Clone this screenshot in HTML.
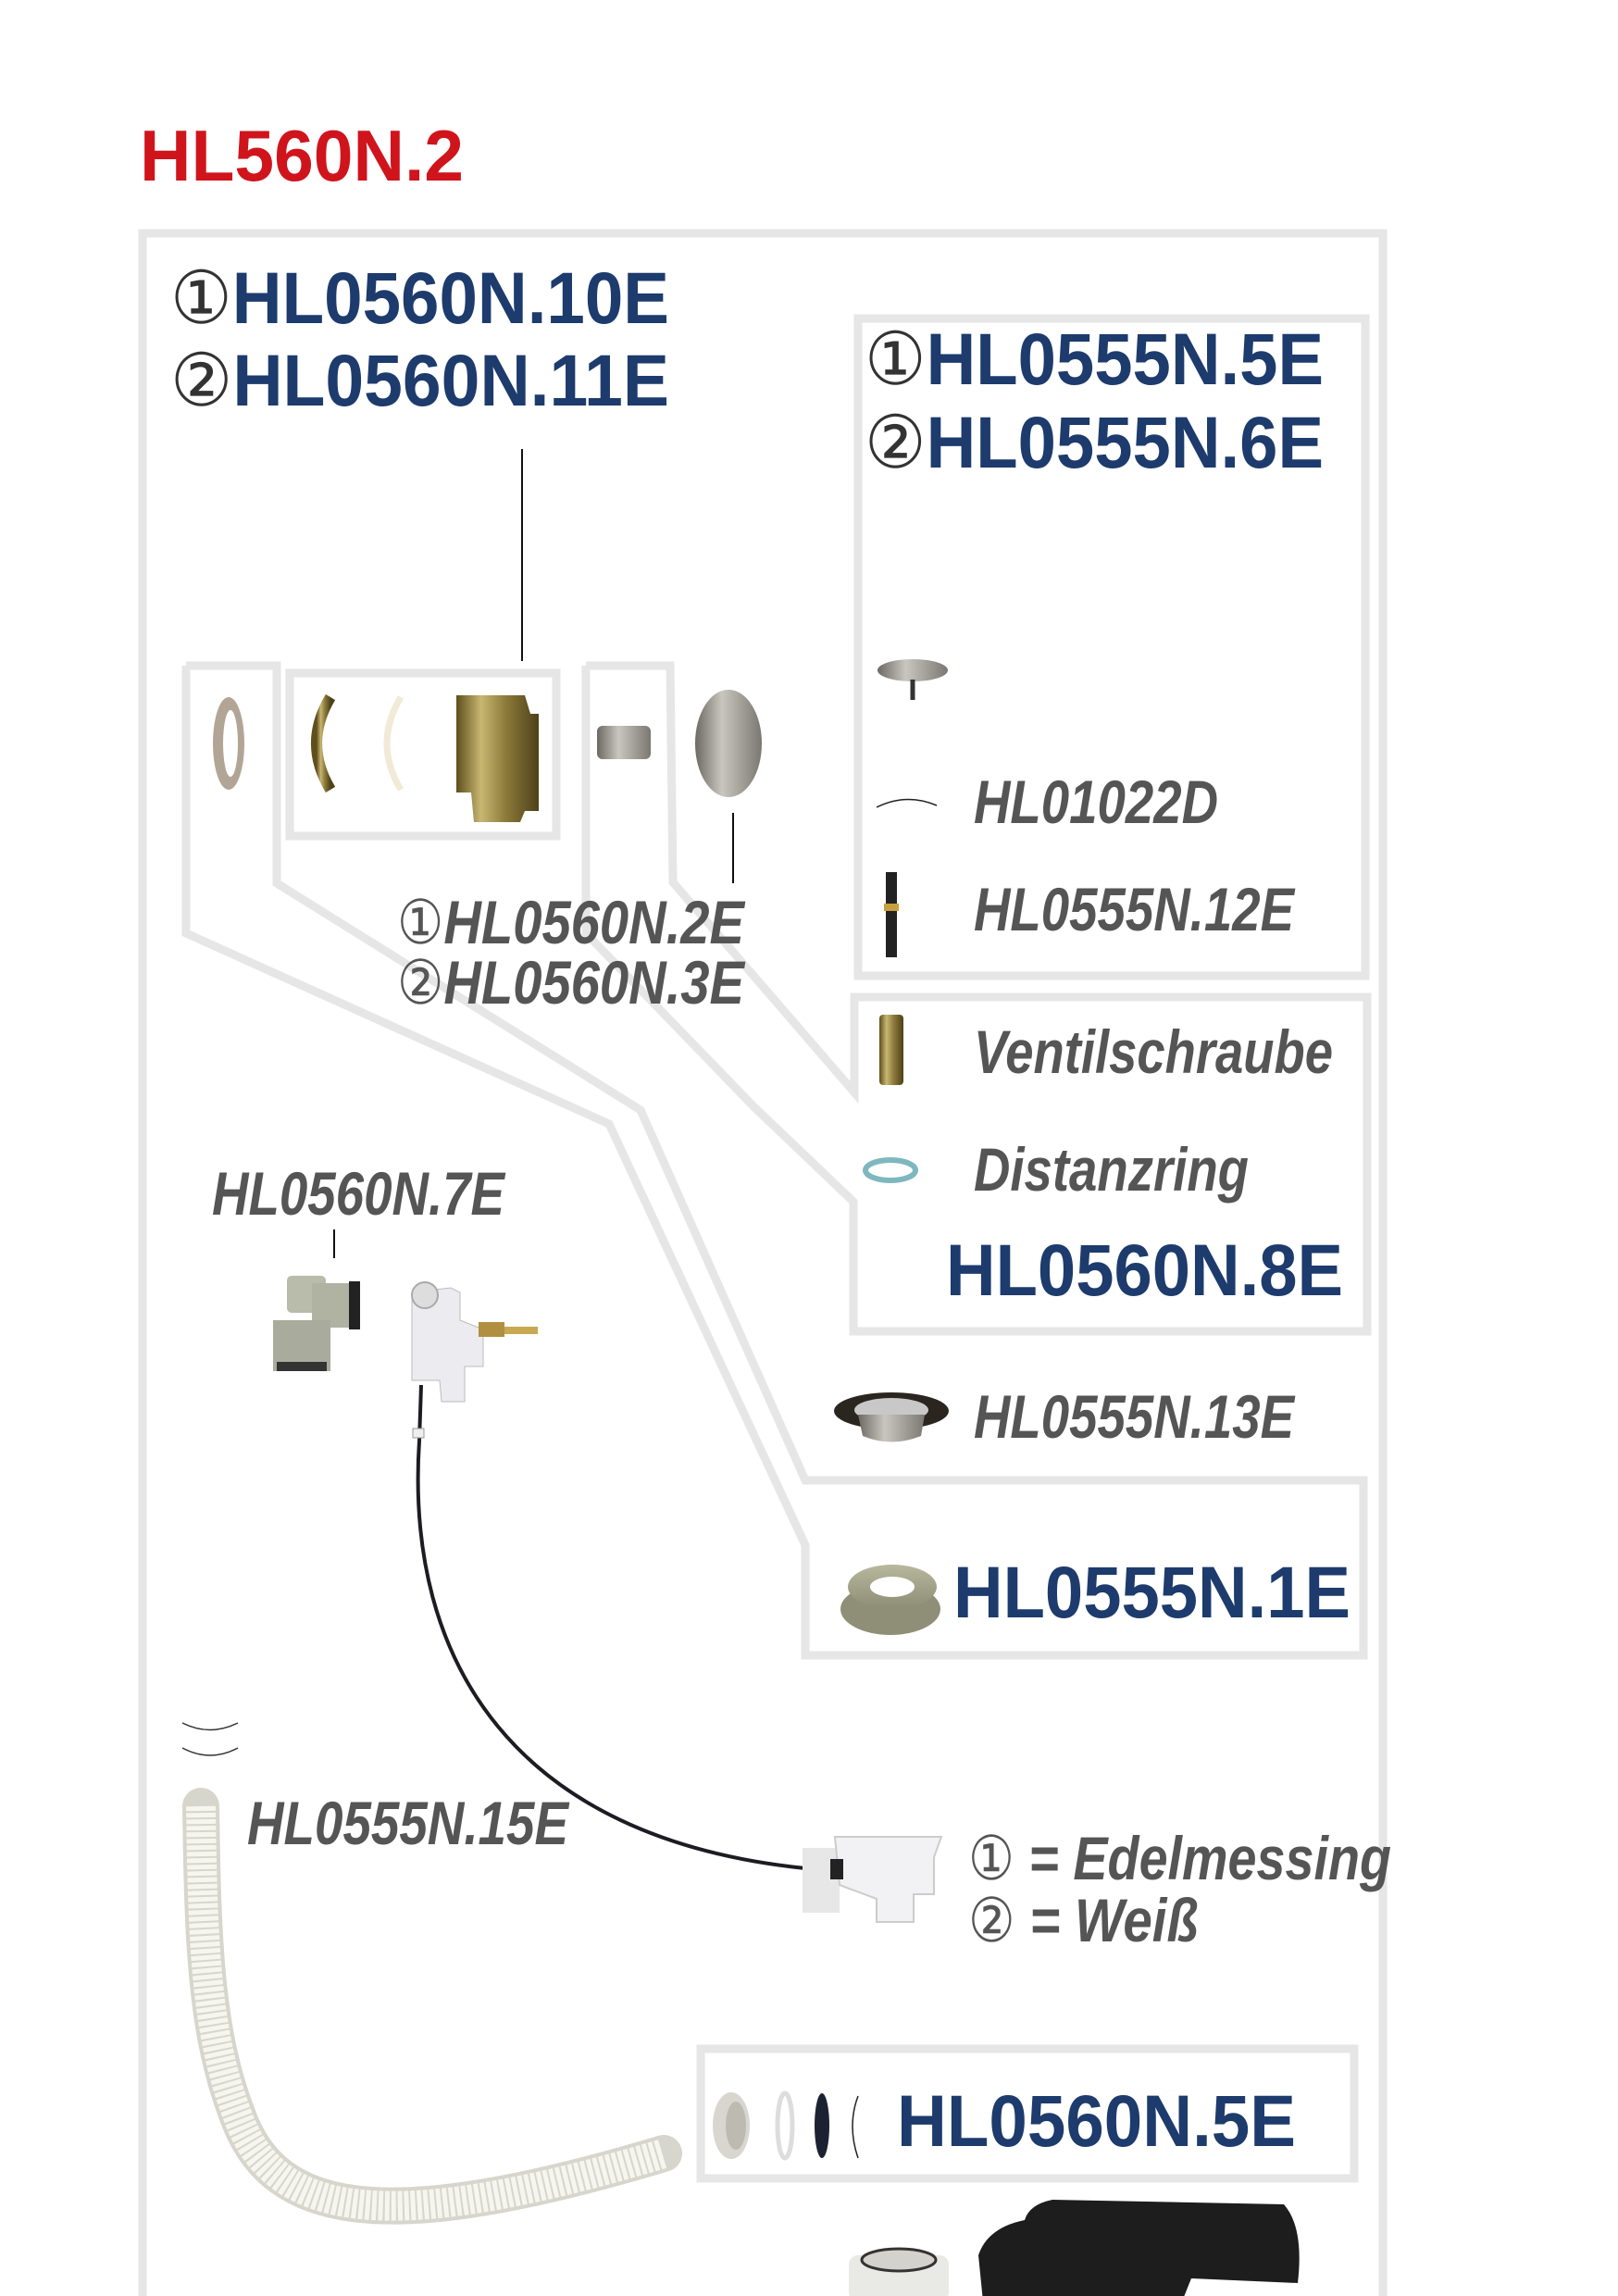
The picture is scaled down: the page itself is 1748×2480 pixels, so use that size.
<!DOCTYPE html>
<html><head><meta charset="utf-8"><style>
html,body{margin:0;padding:0;background:#fff;}
svg{display:block;}
.b{font-family:"Liberation Sans Narrow","Liberation Sans",sans-serif;font-weight:bold;fill:#1d3b6c;}
.g{font-family:"Liberation Sans Narrow","Liberation Sans",sans-serif;font-weight:bold;font-style:italic;fill:#555;}
</style></head><body>
<svg width="1748" height="2480" viewBox="0 0 1748 2480" xmlns="http://www.w3.org/2000/svg">
<defs>
<linearGradient id="brass" x1="0" x2="1"><stop offset="0" stop-color="#5e4f1c"/><stop offset=".3" stop-color="#c8b673"/><stop offset=".6" stop-color="#8c7a3a"/><stop offset="1" stop-color="#4d4118"/></linearGradient>
<linearGradient id="steel" x1="0" x2="1"><stop offset="0" stop-color="#6c6862"/><stop offset=".4" stop-color="#c9c6c0"/><stop offset="1" stop-color="#7b7771"/></linearGradient>
<linearGradient id="olive" x1="0" x2="0" y1="0" y2="1"><stop offset="0" stop-color="#b8b89e"/><stop offset="1" stop-color="#8d8d76"/></linearGradient>
</defs>
<g transform="translate(-3,-4)">
<text x="154" y="199" font-family="Liberation Sans Narrow, Liberation Sans, sans-serif" font-weight="bold" font-size="78" fill="#d0141c" textLength="350" lengthAdjust="spacingAndGlyphs">HL560N.2</text>

<g fill="none" stroke="#e6e6e6" stroke-width="9" stroke-linejoin="miter">
<polyline points="157,2490 157,256 1497,256 1497,2490"/>
<rect x="930" y="348" width="548" height="710"/>
<rect x="316" y="731" width="288" height="176"/>
<polyline points="204,723 204,1012 661,1218 873,1673 873,1792 1476,1792 1476,1603 873,1603 695,1203 302,958 302,723 204,723"/>
<polyline points="636,723 636,1012 818,1200 925,1302 925,1442 1480,1442 1480,1081 926,1081 926,1184 730,957 727,723 636,723"/>
<rect x="760" y="2217" width="706" height="140"/>
</g>

<text class="b" x="187" y="353" font-size="79" textLength="539" lengthAdjust="spacingAndGlyphs"><tspan font-weight="normal" fill="#333">①</tspan>HL0560N.10E</text>
<text class="b" x="187" y="442" font-size="79" textLength="539" lengthAdjust="spacingAndGlyphs"><tspan font-weight="normal" fill="#333">②</tspan>HL0560N.11E</text>
<text class="b" x="937" y="419" font-size="79" textLength="496" lengthAdjust="spacingAndGlyphs"><tspan font-weight="normal" fill="#333">①</tspan>HL0555N.5E</text>
<text class="b" x="937" y="509" font-size="79" textLength="496" lengthAdjust="spacingAndGlyphs"><tspan font-weight="normal" fill="#333">②</tspan>HL0555N.6E</text>
<text class="b" x="1025" y="1403" font-size="79" textLength="429" lengthAdjust="spacingAndGlyphs">HL0560N.8E</text>
<text class="b" x="1033" y="1751" font-size="79" textLength="429" lengthAdjust="spacingAndGlyphs">HL0555N.1E</text>
<text class="b" x="972" y="2322" font-size="79" textLength="431" lengthAdjust="spacingAndGlyphs">HL0560N.5E</text>

<text class="g" x="1055" y="893" font-size="66" textLength="264" lengthAdjust="spacingAndGlyphs">HL01022D</text>
<text class="g" x="1055" y="1009" font-size="66" textLength="346" lengthAdjust="spacingAndGlyphs">HL0555N.12E</text>
<text class="g" x="432" y="1023" font-size="66" textLength="375" lengthAdjust="spacingAndGlyphs"><tspan font-style="normal" font-weight="normal">①</tspan>HL0560N.2E</text>
<text class="g" x="432" y="1088" font-size="66" textLength="375" lengthAdjust="spacingAndGlyphs"><tspan font-style="normal" font-weight="normal">②</tspan>HL0560N.3E</text>
<text class="g" x="1055" y="1163" font-size="66" textLength="388" lengthAdjust="spacingAndGlyphs">Ventilschraube</text>
<text class="g" x="1055" y="1290" font-size="66" textLength="297" lengthAdjust="spacingAndGlyphs">Distanzring</text>
<text class="g" x="1055" y="1557" font-size="66" textLength="346" lengthAdjust="spacingAndGlyphs">HL0555N.13E</text>
<text class="g" x="232" y="1316" font-size="66" textLength="316" lengthAdjust="spacingAndGlyphs">HL0560N.7E</text>
<text class="g" x="270" y="1996" font-size="66" textLength="347" lengthAdjust="spacingAndGlyphs">HL0555N.15E</text>
<text class="g" x="1049" y="2034" font-size="66" textLength="457" lengthAdjust="spacingAndGlyphs"><tspan font-style="normal" font-weight="normal">①</tspan> = Edelmessing</text>
<text class="g" x="1049" y="2101" font-size="66" textLength="249" lengthAdjust="spacingAndGlyphs"><tspan font-style="normal" font-weight="normal">②</tspan> = Weiß</text>

<g stroke="#111" stroke-width="2">
<line x1="567" y1="489" x2="567" y2="718"/>
<line x1="795" y1="882" x2="795" y2="958"/>
<line x1="364" y1="1332" x2="364" y2="1363"/>
</g>

<ellipse cx="250" cy="807" rx="17" ry="50" fill="#b3a596"/>
<ellipse cx="252" cy="807" rx="8" ry="36" fill="#fff"/>
<path d="M360,757 Q330,807 360,857" fill="none" stroke="url(#brass)" stroke-width="12"/>
<path d="M436,757 Q406,807 436,857" fill="none" stroke="#f0ead6" stroke-width="7"/>
<path d="M496,755 L570,755 L576,775 L585,775 L585,880 L570,880 L565,892 L515,892 L512,860 L496,860 Z" fill="url(#brass)"/>
<rect x="648" y="788" width="58" height="36" rx="6" fill="url(#steel)"/>
<ellipse cx="790" cy="807" rx="36" ry="58" fill="url(#steel)"/>

<ellipse cx="989" cy="728" rx="38" ry="12" fill="url(#steel)"/>
<line x1="989" y1="738" x2="989" y2="760" stroke="#333" stroke-width="5"/>
<path d="M950,876 Q982,860 1015,874" fill="none" stroke="#222" stroke-width="1.5"/>
<rect x="960" y="946" width="12" height="92" fill="#222"/>
<rect x="958" y="980" width="16" height="8" fill="#c8a040"/>
<rect x="953" y="1100" width="26" height="76" rx="4" fill="url(#brass)"/>
<ellipse cx="965" cy="1268" rx="27" ry="11" fill="none" stroke="#7fb7bf" stroke-width="6"/>
<ellipse cx="966" cy="1528" rx="62" ry="20" fill="#2b2520"/>
<ellipse cx="966" cy="1527" rx="40" ry="13" fill="#c8c8c8"/>
<path d="M930,1532 L935,1555 Q966,1568 998,1555 L1002,1532 Z" fill="url(#steel)"/>
<ellipse cx="965" cy="1742" rx="54" ry="28" fill="#8f8f78"/>
<ellipse cx="967" cy="1718" rx="48" ry="24" fill="url(#olive)"/>
<ellipse cx="967" cy="1718" rx="24" ry="11" fill="#fff"/>

<rect x="313" y="1382" width="42" height="40" rx="5" fill="#b9bbab"/>
<rect x="340" y="1390" width="45" height="48" fill="#b0b2a2"/>
<rect x="380" y="1388" width="12" height="52" fill="#222"/>
<rect x="298" y="1430" width="62" height="55" fill="#a9ab9c"/>
<rect x="302" y="1475" width="54" height="10" fill="#333"/>
<path d="M448,1400 L490,1395 L500,1400 L500,1430 L525,1440 L525,1480 L505,1480 L505,1518 L480,1518 L478,1495 L448,1495 Z" fill="#ecebf0" stroke="#bbb" stroke-width="1"/>
<circle cx="462" cy="1403" r="14" fill="#ddd" stroke="#aaa" stroke-width="2"/>
<rect x="520" y="1432" width="28" height="16" fill="#b09040"/>
<rect x="548" y="1437" width="36" height="8" fill="#c8a850"/>
<path d="M458,1500 L456,1560 C440,1800 560,1990 873,2022" fill="none" stroke="#1c1c22" stroke-width="4"/>
<rect x="449" y="1547" width="12" height="10" fill="#eee" stroke="#999"/>
<rect x="870" y="2000" width="40" height="70" fill="#e7e7e7"/>
<path d="M905,1988 L1020,1988 L1012,2010 L1012,2050 L990,2050 L990,2080 L950,2080 L950,2055 L910,2040 Z" fill="#f2f2f4" stroke="#ccc" stroke-width="2"/>
<rect x="900" y="2012" width="14" height="22" fill="#222"/>
<path d="M220,1955 C222,2100 225,2200 260,2290 C300,2400 420,2420 720,2330" fill="none" stroke="#d6d6cc" stroke-width="40" stroke-linecap="round"/>
<path d="M220,1955 C222,2100 225,2200 260,2290 C300,2400 420,2420 720,2330" fill="none" stroke="#f6f5ee" stroke-width="32" stroke-dasharray="5 2"/>
<path d="M200,1865 Q230,1880 260,1865 M200,1892 Q230,1908 260,1892" fill="none" stroke="#333" stroke-width="1.5"/>
<ellipse cx="793" cy="2300" rx="20" ry="36" fill="#d8d6cf"/>
<ellipse cx="798" cy="2300" rx="11" ry="26" fill="#bdbab2"/>
<ellipse cx="851" cy="2300" rx="8" ry="35" fill="none" stroke="#ddd" stroke-width="5"/>
<ellipse cx="891" cy="2300" rx="8" ry="35" fill="#1d2233"/>
<path d="M930,2268 Q918,2300 930,2335" fill="none" stroke="#222" stroke-width="1.5"/>
<path d="M1065,2490 L1060,2440 Q1070,2410 1110,2402 Q1115,2385 1140,2380 L1390,2385 Q1412,2410 1405,2470 L1290,2465 L1280,2490 Z" fill="#1d1d1d"/>
<rect x="920" y="2440" width="108" height="50" rx="10" fill="#e9e9e6"/>
<ellipse cx="974" cy="2445" rx="40" ry="12" fill="#d4d2cc" stroke="#333" stroke-width="3"/>
</g>
</svg>
</body></html>
